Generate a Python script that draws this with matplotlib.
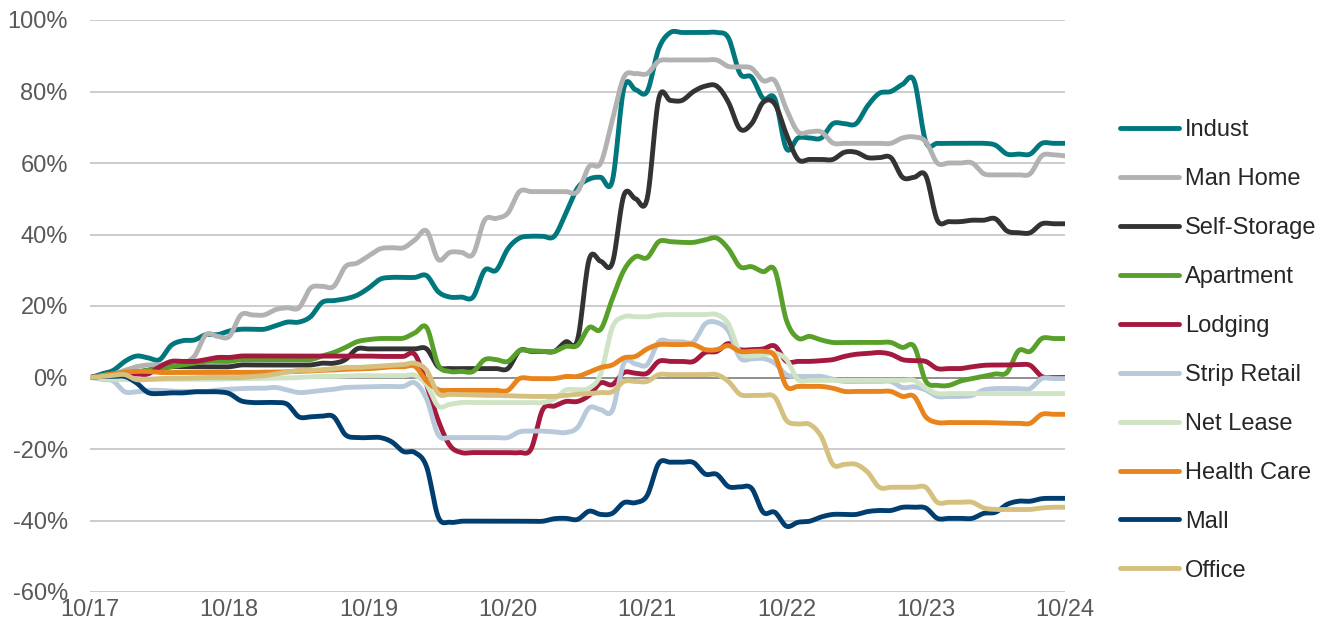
import numpy as np
import matplotlib
matplotlib.use('Agg')
import matplotlib.pyplot as plt

# monthly cumulative total return, 10/2017 .. 10/2024 (85 points, %)
indust = [0, 1, 2, 4.5, 6, 5.5, 5, 9, 10.3, 10.5, 12, 12,
          13, 13.5, 13.5, 13.5, 14.5, 15.5, 15.5, 17, 21, 21.5, 22, 23,
          25, 27.5, 28, 28, 28, 28.5, 24, 22.5, 22.5, 22.5, 30, 30,
          36, 39, 39.5, 39.5, 39.5, 46, 53, 55.5, 56, 55, 81, 80.5,
          80, 92, 96.5, 96.5, 96.5, 96.5, 96.5, 95, 85, 84, 78, 78,
          64, 67, 67, 67, 71, 71, 71, 76, 79.5, 80, 82, 83,
          66, 65.5, 65.5, 65.5, 65.5, 65.5, 65, 62.5, 62.5, 62.5, 65.5, 65.5,
          65.5]
man_home = [0, 0.5, 1, 2, 3, 3.5, 3.5, 4, 4, 6, 12, 11.5,
            11.5, 17.5, 17.5, 17.5, 19, 19.5, 19.5, 25, 25.5, 25.5, 31, 32,
            34, 36, 36.3, 36.3, 38.5, 41, 33, 35, 35, 34.5, 44, 44.5,
            46, 52, 52, 52, 52, 52, 52, 59, 60, 72, 84, 85,
            85, 88.5, 88.8, 88.8, 88.8, 88.8, 88.8, 87, 86.9, 86.5, 83, 83,
            75, 68.7, 68.7, 68.7, 65.6, 65.5, 65.5, 65.5, 65.5, 65.5, 67, 67.3,
            66, 60, 60, 60, 60, 57, 56.7, 56.7, 56.7, 57, 62, 62.3,
            62]
self_storage = [0, 0.5, 1, 1, 1.5, 2, 2.5, 3, 3, 3, 3, 3,
                3, 3.5, 3.5, 3.5, 3.5, 3.5, 3.5, 3.5, 4, 4, 5, 8,
                8, 8, 8, 8, 8, 8, 3, 2.5, 2.5, 2.5, 2.5, 2.5,
                2.5, 7.5, 7.3, 7.3, 7.3, 10, 10.5, 33, 32.5, 32, 51, 50,
                50, 78, 77.5, 77.5, 80, 81.5, 81.5, 77, 69.5, 71, 77, 76.5,
                68, 61, 61, 61, 61, 63, 63, 61.5, 61.5, 61.5, 56, 56,
                56.5, 44, 43.6, 43.6, 44, 44, 44.4, 41, 40.5, 40.5, 43, 43,
                43]
apartment = [0, 0.5, 1, 1, 1.5, 2, 2.5, 3, 3.5, 4, 4.5, 4.5,
             4.5, 5, 5, 5, 5, 5, 5, 5, 6, 7, 8.4, 10,
             10.6, 10.9, 10.9, 11, 12.5, 14, 3.5, 1.7, 1.7, 1.7, 5, 5,
             4.5, 7.5, 7.5, 7.3, 7.3, 8.7, 9, 14, 13.5, 22, 30, 33.8,
             33.5, 38, 38, 37.8, 37.8, 38.5, 39, 36, 31, 31, 29.6, 30,
             16, 11, 11.5, 10.5, 9.8, 9.8, 9.8, 9.8, 9.8, 9.8, 8.4, 8.7,
             -1, -2.2, -2.2, -1, -0.3, 0.3, 1, 1.4, 7.5, 7.3, 10.9, 10.9,
             10.9]
lodging = [0, 0.3, 0.5, 1, 1, 1, 3, 4.5, 4.5, 4.5, 5, 5.6,
           5.6, 6, 6, 6, 6, 6, 6, 6, 6, 6, 6, 6,
           6, 5.9, 5.9, 5.9, 6.4, -2, -12, -19, -21, -21, -21, -21,
           -21, -21, -20, -9, -8, -6.7, -6.7, -5, -1.5, -2, 1.4, 1.2,
           1.2, 4.5, 4.5, 4.5, 4.5, 7, 7.3, 9.5, 7.8, 7.8, 8, 8.8,
           4.5, 4.5, 4.5, 4.7, 5, 5.9, 6.5, 6.7, 7, 6.5, 5, 4.7,
           4.5, 2.5, 2.5, 2.5, 3, 3.4, 3.5, 3.5, 3.6, 3.4, 0.3, 0,
           0]
strip_retail = [0, -0.5, -1, -4, -4, -3.6, -3.6, -3.8, -3.9, -3.9, -3.9, -3.5,
                -3.3, -3.1, -3, -3, -2.8, -3.5, -4.2, -4, -3.6, -3.3, -2.8, -2.7,
                -2.6, -2.5, -2.5, -2.5, -1.5, -6, -16, -16.8, -16.8, -16.8, -16.8, -16.8,
                -16.8, -15.2, -15, -15, -15.2, -15.4, -14, -8.5, -9, -9.2, 4, 3.8,
                3.6, 10, 10, 10, 10, 15, 15.4, 13, 5.5, 5.2, 5.3, 4,
                0.8, 0.3, 0.3, 0.3, -0.5, -1.1, -1.1, -1.1, -1.1, -1.1, -2.8, -2.6,
                -3.5, -5.3, -5.3, -5.3, -5, -3.5, -3.1, -3.1, -3.1, -3.1, -0.3, -0.3,
                -0.3]
net_lease = [0, -0.3, -0.5, -0.6, -0.6, -0.6, -0.5, -0.5, -0.5, -0.5, -0.5, -0.5,
             -0.4, -0.3, -0.3, -0.2, -0.2, -0.1, 0, 0.2, 0.3, 0.3, 0.4, 0.5,
             0.5, 0.5, 0.5, 0.5, 0.6, -2, -8, -7.5, -7, -7, -7, -7,
             -7, -7, -7, -7, -6, -3.5, -3.4, -3, 1, 14, 17, 17,
             17, 17.5, 17.6, 17.6, 17.6, 17.6, 17.6, 15, 7, 6, 6.4, 6.8,
             5, -0.6, -0.8, -0.8, -0.8, -0.8, -0.8, -0.8, -0.8, -0.8, -0.8, -0.8,
             -3, -4.5, -4.5, -4.5, -4.5, -4.5, -4.5, -4.5, -4.5, -4.5, -4.5, -4.5,
             -4.5]
health_care = [0, 0.5, 1, 1.5, 1.7, 1.7, 1.4, 1.4, 1.4, 1.4, 1.4, 1.4,
               1.4, 1.4, 1.4, 1.5, 1.5, 1.6, 1.7, 1.8, 2, 2.1, 2.3, 2.4,
               2.5, 2.7, 3, 3, 3.1, -1, -3.4, -3.6, -3.6, -3.6, -3.6, -3.6,
               -3.6, -0.3, -0.3, -0.3, -0.3, 0.3, 0.3, 1.5, 2.8, 3.5, 5.5, 5.9,
               8, 9.2, 9.2, 9.2, 9.2, 7.8, 7.8, 8.9, 7.3, 7.3, 7.3, 6,
               -2.5, -2.5, -2.5, -2.5, -3, -3.9, -3.9, -3.9, -3.9, -3.9, -5.3, -5.3,
               -11, -12.6, -12.6, -12.6, -12.6, -12.6, -12.7, -12.8, -12.8, -12.8, -10.3, -10.3,
               -10.3]
mall = [0, 0.3, 0.3, 0.3, -1.5, -4.2, -4.5, -4.3, -4.3, -4, -4, -4,
        -4.5, -6.5, -7, -7, -7, -7.5, -11, -11, -10.8, -11, -16, -16.8,
        -16.8, -16.8, -18, -20.7, -21, -25, -39, -40.5, -40.2, -40.2, -40.2, -40.2,
        -40.2, -40.2, -40.2, -40.2, -39.5, -39.4, -39.7, -37.4, -38.3, -38, -35, -35,
        -33, -24, -23.7, -23.7, -23.8, -27, -27.1, -30.5, -30.6, -31, -37.7, -37.7,
        -41.6, -40.5, -40.2, -39, -38.3, -38.3, -38.3, -37.5, -37.2, -37.2, -36.3, -36.3,
        -36.5, -39.4, -39.4, -39.4, -39.4, -38, -37.7, -35.5, -34.6, -34.6, -33.9, -33.8,
        -33.8]
office = [0, 0.3, 0.6, 0.8, -0.6, -0.5, -0.3, -0.2, -0.2, -0.1, 0, 0,
          0, 0, 0.3, 0.5, 1, 1.5, 2, 2, 2.2, 2.5, 2.8, 2.8,
          3, 3.2, 3.4, 3.6, 4, 2, -4.5, -4.7, -4.8, -4.9, -5, -5,
          -5.1, -5.2, -5.3, -5.3, -5.3, -5, -4.7, -4.5, -4.2, -4, -1.1, -1.1,
          -1.1, 0.8, 0.8, 0.8, 0.8, 0.8, 0.8, -1.1, -4.7, -5, -5, -5.5,
          -12, -13, -13.1, -16.5, -24.3, -24.3, -24.3, -26.5, -30.7, -30.7, -30.7, -30.7,
          -30.7, -34.9, -34.9, -34.9, -34.9, -36.5, -36.9, -36.9, -36.9, -36.9, -36.5, -36.3,
          -36.3]

names = ["Indust", "Man Home", "Self-Storage", "Apartment", "Lodging",
         "Strip Retail", "Net Lease", "Health Care", "Mall", "Office"]
series = [indust, man_home, self_storage, apartment, lodging,
          strip_retail, net_lease, health_care, mall, office]
colors = ["#00777d", "#b2b2b2", "#333333", "#58a02a", "#a6193e",
          "#b7c9da", "#cfe4c4", "#e9841c", "#003e70", "#d5c07f"]
tick_labels = ["10/17", "10/18", "10/19", "10/20", "10/21", "10/22", "10/23", "10/24"]


def smooth(y, n=12):
    """Catmull-Rom spline through monthly points (Excel 'smoothed line')"""
    y = np.asarray(y, float)
    p = np.concatenate([[y[0]], y, [y[-1]]])
    t = np.linspace(0, 1, n, endpoint=False)
    xs, ys = [], []
    for i in range(len(y) - 1):
        p0, p1, p2, p3 = p[i], p[i + 1], p[i + 2], p[i + 3]
        seg = 0.5 * (2 * p1 + (-p0 + p2) * t + (2 * p0 - 5 * p1 + 4 * p2 - p3) * t ** 2
                     + (-p0 + 3 * p1 - 3 * p2 + p3) * t ** 3)
        xs.append(i + t)
        ys.append(seg)
    xs.append([len(y) - 1])
    ys.append([y[-1]])
    return np.concatenate(xs), np.concatenate(ys)


plt.rcParams['font.family'] = ['Liberation Sans', 'DejaVu Sans']

fig = plt.figure(figsize=(13.3, 6.33), dpi=100)
ax = fig.add_axes([90 / 1330, 41 / 633, 975 / 1330, 572 / 633])

for name, vals, c in zip(names, series, colors):
    sx, sy = smooth(vals)
    ax.plot(sx, sy, color=c, lw=3.5, label=name, solid_capstyle='round', zorder=3)

ax.axhline(0, color='#8c8c8c', lw=1.3, zorder=2)
ax.set_xlim(0, 84)
ax.set_ylim(-60, 100)
ax.set_yticks(np.arange(-60, 101, 20))
ax.set_yticklabels([f"{v}%" for v in range(-60, 101, 20)])
ax.set_xticks(np.arange(0, 85, 12))
ax.set_xticklabels(tick_labels)
ax.grid(axis='y', color='#bfbfbf', lw=1.1, zorder=1)
for s in ax.spines.values():
    s.set_visible(False)
ax.tick_params(axis='both', length=0, labelsize=17, colors='#595959')
ax.tick_params(axis='y', pad=16)
ax.tick_params(axis='x', pad=5)

leg = fig.legend(loc='center left', bbox_to_anchor=(1099 / 1330, 1 - 350.5 / 633),
                 frameon=False, fontsize=17, handlelength=2.5, handletextpad=0.25,
                 labelspacing=1.14, labelcolor='#262626')
for h in leg.get_lines():
    h.set_linewidth(3.5)

fig.savefig('out.png', dpi=100, facecolor='white')
